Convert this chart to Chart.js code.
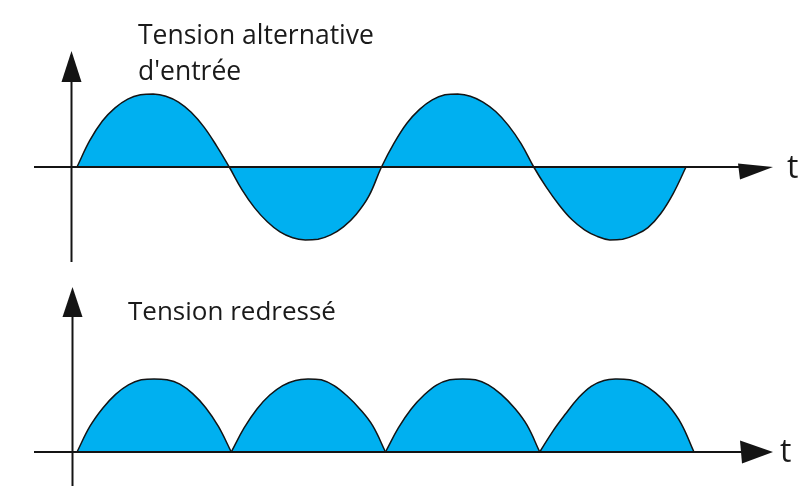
<!DOCTYPE html>
<html>
<head>
<meta charset="utf-8">
<script src="https://cdn.jsdelivr.net/npm/chart.js@4.4.1/dist/chart.umd.min.js"></script>
<style>
html,body{margin:0;padding:0;background:#ffffff;}
#wrap{position:relative;width:810px;height:486px;overflow:hidden;}
#wrap canvas{position:absolute;left:0;top:0;}
</style>
</head>
<body>
<div id="wrap">
<canvas id="cTop" width="810" height="486"></canvas>
<canvas id="cBottom" width="810" height="486"></canvas>
</div>
<script>
// ---- data ----
// time samples: 12 samples per half period, 4 half periods
const timeTicks = [0,1,2,3,4,5,6,7,8,9,10,11,12,13,14,15,16,17,18,19,20,21,22,23,24,
  25,26,27,28,29,30,31,32,33,34,35,36,37,38,39,40,41,42,43,44,45,46,47,48];

// input alternating voltage (normalised to peak)
const inputVoltage = [
  0, 0.36, 0.63, 0.81, 0.93, 0.99, 1.00, 0.97, 0.89, 0.75, 0.55, 0.29, 0,
  -0.31, -0.56, -0.75, -0.89, -0.97, -1.00, -0.99, -0.93, -0.82, -0.65, -0.40, 0,
  0.33, 0.60, 0.79, 0.92, 0.99, 1.00, 0.97, 0.89, 0.76, 0.57, 0.32, 0,
  -0.28, -0.52, -0.72, -0.86, -0.95, -1.00, -0.99, -0.93, -0.83, -0.64, -0.36, 0
];

// rectified voltage (normalised to peak)
const rectifiedVoltage = [
  0, 0.35, 0.60, 0.79, 0.92, 0.99, 1.00, 0.99, 0.93, 0.80, 0.61, 0.35, 0,
  0.33, 0.59, 0.78, 0.91, 0.98, 1.00, 0.99, 0.91, 0.77, 0.59, 0.36, 0,
  0.33, 0.59, 0.78, 0.92, 0.99, 1.00, 0.99, 0.92, 0.79, 0.61, 0.37, 0,
  0.28, 0.52, 0.74, 0.90, 0.98, 1.00, 0.99, 0.93, 0.81, 0.64, 0.39, 0
];
// the rectified wave is made of separate half-wave arches
const archLength = 12;

const titleTop = ["Tension alternative", "d'entrée"];
const titleBottom = ["Tension redressé"];
const axisLabel = "t";

// ---- styles ----
const INK = '#141414';
const TEXT = '#1a1a1a';
const FILL = '#00B0F0';
const FONT = '"Open Sans", "DejaVu Sans", sans-serif';

const decor = {
  id: 'decor',
  afterDatasetsDraw(chart, args, o) {
    const ctx = chart.ctx;
    const ys = chart.scales.y;
    const zeroY = ys.getPixelForValue(0);
    ctx.save();
    ctx.strokeStyle = INK;
    ctx.fillStyle = INK;
    ctx.lineWidth = 2;
    // horizontal axis
    ctx.beginPath();
    ctx.moveTo(o.hFrom, zeroY);
    ctx.lineTo(o.hTo - 10, zeroY);
    ctx.stroke();
    // vertical axis
    ctx.beginPath();
    ctx.moveTo(o.axisX, o.vBottom);
    ctx.lineTo(o.axisX, o.vTip + 10);
    ctx.stroke();
    // up arrow
    ctx.beginPath();
    ctx.moveTo(o.axisX, o.vTip);
    ctx.lineTo(o.axisX + o.upHalf, o.vTip + o.upLen);
    ctx.lineTo(o.axisX - o.upHalf, o.vTip + o.upLen);
    ctx.closePath();
    ctx.fill();
    // right arrow
    ctx.beginPath();
    ctx.moveTo(o.hTo, zeroY);
    ctx.lineTo(o.hTo - o.rLen, zeroY - o.rUp);
    ctx.lineTo(o.hTo - o.rLen + 2, zeroY + o.rDown);
    ctx.closePath();
    ctx.fill();
    // texts
    ctx.fillStyle = TEXT;
    ctx.textBaseline = 'alphabetic';
    ctx.textAlign = 'left';
    ctx.font = '20px ' + FONT;
    const size = 20 * o.titleWidth / ctx.measureText(o.title[0]).width;
    ctx.font = size.toFixed(2) + 'px ' + FONT;
    o.title.forEach((line, i) => {
      ctx.fillText(line, o.titleX, o.titleY + i * o.titleGap);
    });
    ctx.font = o.tSize + 'px ' + FONT;
    ctx.fillText(axisLabel, o.tX, zeroY + o.tDy);
    ctx.restore();
  }
};

function baseOptions(yMin, yMax, pad, deco) {
  return {
    responsive: false,
    animation: false,
    devicePixelRatio: 1,
    layout: { padding: pad },
    plugins: { legend: { display: false }, tooltip: { enabled: false }, title: { display: false }, decor: deco },
    scales: {
      x: { type: 'category', display: false, offset: false },
      y: { type: 'linear', display: false, min: yMin, max: yMax }
    }
  };
}

function lineStyle(values) {
  return {
    data: values,
    borderColor: INK,
    borderWidth: 1.5,
    backgroundColor: FILL,
    fill: 'origin',
    pointRadius: 0,
    tension: 0.4,
    spanGaps: false,
    clip: 10
  };
}

// top chart: one continuous wave
new Chart(document.getElementById('cTop'), {
  type: 'line',
  data: { labels: timeTicks, datasets: [lineStyle(inputVoltage)] },
  options: baseOptions(-1, 1,
    { left: 77, right: 124, top: 94, bottom: 246 },
    { hFrom: 34, hTo: 773, axisX: 71.5, vTip: 51, vBottom: 262, upHalf: 10, upLen: 31,
      rLen: 35, rUp: 3.5, rDown: 12.5,
      title: titleTop, titleWidth: 236, titleX: 138, titleY: 43.5, titleGap: 36.5,
      tSize: 32, tX: 787, tDy: 10.5 }),
  plugins: [decor]
});

// bottom chart: one dataset per arch so the joins stay sharp
const archDatasets = [];
for (let a = 0; a * archLength < rectifiedVoltage.length - 1; a++) {
  const vals = rectifiedVoltage.map((v, i) =>
    (i >= a * archLength && i <= (a + 1) * archLength) ? v : null);
  archDatasets.push(lineStyle(vals));
}
new Chart(document.getElementById('cBottom'), {
  type: 'line',
  data: { labels: timeTicks, datasets: archDatasets },
  options: baseOptions(0, 1,
    { left: 77, right: 116, top: 379, bottom: 34 },
    { hFrom: 34, hTo: 773, axisX: 72.5, vTip: 287, vBottom: 486, upHalf: 10, upLen: 30,
      rLen: 33, rUp: 11.5, rDown: 11.5,
      title: titleBottom, titleWidth: 208, titleX: 128, titleY: 320, titleGap: 36,
      tSize: 32, tX: 780, tDy: 9.5 }),
  plugins: [decor]
});
</script>
</body>
</html>
